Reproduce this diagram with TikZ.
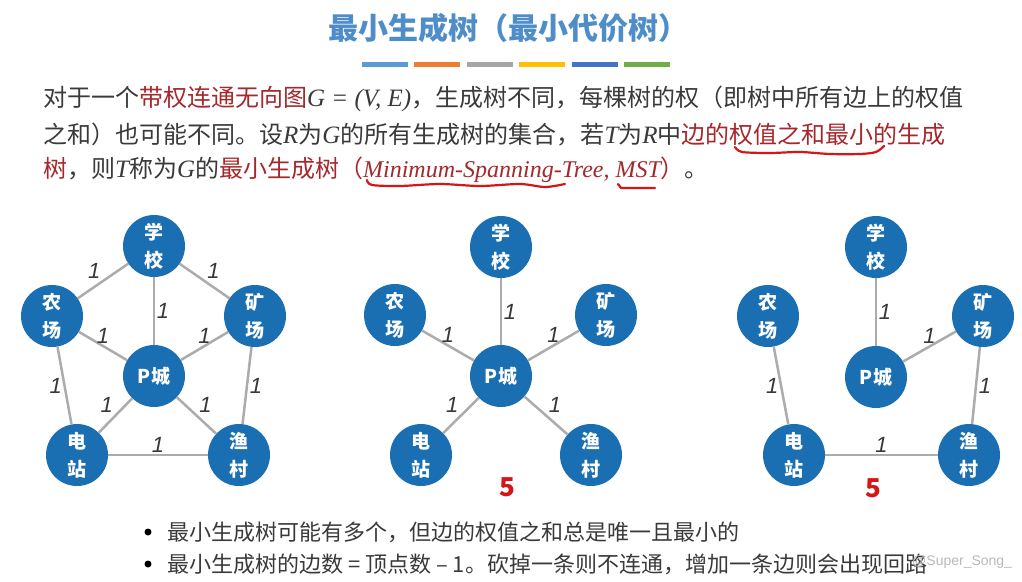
\documentclass[tikz,border=0pt]{standalone}
\usepackage{fontspec}
\setmainfont{Noto Sans CJK SC}
\newfontfamily\timesfont{Liberation Serif}
\newfontfamily\arialfont{Liberation Sans}

\definecolor{titleblue}{RGB}{79,141,201}
\definecolor{nodeblue}{RGB}{26,110,178}
\definecolor{roadgray}{RGB}{172,172,172}
\definecolor{wtgray}{RGB}{56,56,56}
\definecolor{bodygray}{RGB}{58,58,58}
\definecolor{mstred}{RGB}{165,40,45}
\definecolor{inkred}{RGB}{212,22,22}
\definecolor{barA}{RGB}{91,155,213}
\definecolor{barB}{RGB}{237,125,49}
\definecolor{barC}{RGB}{165,165,165}
\definecolor{barD}{RGB}{255,192,0}
\definecolor{barE}{RGB}{68,114,196}
\definecolor{barF}{RGB}{112,173,71}

\newcommand{\hl}[1]{\textcolor{mstred}{#1}}
\newcommand{\tm}[1]{{\timesfont\itshape\fontsize{25}{30}\selectfont #1}}

\tikzset{
  town/.style={circle, fill=nodeblue, minimum size=62pt, inner sep=0pt, text=white,
    align=center, font=\bfseries\fontsize{19}{28}\selectfont},
  road/.style={draw=roadgray, line width=2.5pt},
  wt/.style={font=\arialfont\itshape\fontsize{22}{22}\selectfont, text=wtgray, inner sep=1.5pt},
  textline/.style={anchor=west, inner sep=0pt, text=bodygray, font=\fontsize{24}{30}\selectfont},
  tipline/.style={anchor=west, inner sep=0pt, text=bodygray, font=\fontsize{22}{28}\selectfont},
  ink/.style={draw=inkred, line width=2.2pt, line cap=round, line join=round},
  fivemark/.style={text=inkred, font=\bfseries\fontsize{26}{26}\selectfont, inner sep=0pt},
}

\begin{document}
\begin{tikzpicture}[x=1pt,y=-1pt]
  \useasboundingbox (0,0) rectangle (1022,581);
  \fill[white] (0,0) rectangle (1022,581);

  % title and colour bars
  \node[text=titleblue, font=\bfseries\fontsize{30}{36}\selectfont] (title) at (508,28) {最小生成树（最小代价树）};
  \foreach \c [count=\i from 0] in {barA,barB,barC,barD,barE,barF}
    \fill[\c] (362+52.4*\i,62) rectangle ++(46,5);

  % definition
  \node[textline] (line1) at (43,99) {对于一个\hl{带权连通无向图}\tm{G = (V, E)}，生成树不同，每棵树的权（即树中所有边上的权值};
  \node[textline] (line2) at (43,135) {之和）也可能不同。设\tm{R}为\tm{G}的所有生成树的集合，若\tm{T}为\tm{R}中\hl{边的权值之和最小的生成}};
  \node[textline] (line3) at (43,170) {\hl{树}，则\tm{T}称为\tm{G}的\hl{最小生成树（{\timesfont\itshape\fontsize{24}{30}\selectfont Minimum-Spanning-Tree, MST}）}。};

  % hand-drawn marks
  \draw[ink] plot[smooth] coordinates {(735,147) (742,152) (770,153) (800,152) (830,154) (860,154) (876,152) (884,146)};
  \draw[ink] plot[smooth] coordinates {(367,180) (372,185) (400,186) (440,184) (480,186) (520,184) (545,187) (565,184)};
  \draw[ink] (618,184) -- (621,188) -- (655,188);

  % graph 1: the full graph
  \node[town] (schoolA) at (154,246) {学\\校};
  \node[town] (farmA) at (52,316) {农\\场};
  \node[town] (mineA) at (255,316) {矿\\场};
  \node[town] (cityA) at (154,376) {P城};
  \node[town] (powerA) at (77,455) {电\\站};
  \node[town] (fishA) at (239,455) {渔\\村};
  \draw[road] (schoolA) -- node[wt, above left] {1} (farmA);
  \draw[road] (schoolA) -- node[wt, above right] {1} (mineA);
  \draw[road] (schoolA) -- node[wt, right] {1} (cityA);
  \draw[road] (farmA) -- node[wt, above] {1} (cityA);
  \draw[road] (mineA) -- node[wt, above] {1} (cityA);
  \draw[road] (farmA) -- node[wt, left] {1} (powerA);
  \draw[road] (mineA) -- node[wt, right] {1} (fishA);
  \draw[road] (cityA) -- node[wt, above left] {1} (powerA);
  \draw[road] (cityA) -- node[wt, above right] {1} (fishA);
  \draw[road] (powerA) -- node[wt, above] {1} (fishA);

  % graph 2: star tree
  \node[town] (schoolB) at (501,247) {学\\校};
  \node[town] (farmB) at (395,315) {农\\场};
  \node[town] (mineB) at (606,315) {矿\\场};
  \node[town] (cityB) at (501,376) {P城};
  \node[town] (powerB) at (421,455) {电\\站};
  \node[town] (fishB) at (591,455) {渔\\村};
  \draw[road] (cityB) -- node[wt, right] {1} (schoolB);
  \draw[road] (cityB) -- node[wt, above] {1} (farmB);
  \draw[road] (cityB) -- node[wt, above] {1} (mineB);
  \draw[road] (cityB) -- node[wt, above left] {1} (powerB);
  \draw[road] (cityB) -- node[wt, above right] {1} (fishB);
  \node[fivemark] (fiveB) at (507,487) {5};

  % graph 3: path tree
  \node[town] (schoolC) at (876,247) {学\\校};
  \node[town] (farmC) at (768,316) {农\\场};
  \node[town] (mineC) at (983,316) {矿\\场};
  \node[town] (cityC) at (876,377) {P城};
  \node[town] (powerC) at (794,455) {电\\站};
  \node[town] (fishC) at (969,455) {渔\\村};
  \draw[road] (cityC) -- node[wt, right] {1} (schoolC);
  \draw[road] (cityC) -- node[wt, above] {1} (mineC);
  \draw[road] (farmC) -- node[wt, left] {1} (powerC);
  \draw[road] (mineC) -- node[wt, right] {1} (fishC);
  \draw[road] (powerC) -- node[wt, above] {1} (fishC);
  \node[fivemark] (fiveC) at (873,488) {5};

  % remarks
  \fill[black] (148,532) circle (3.5);
  \fill[black] (148,564) circle (3.5);
  \node[tipline] (tip1) at (167,532) {最小生成树可能有多个，但边的权值之和总是唯一且最小的};
  \node[tipline] (tip2) at (167,564) {最小生成树的边数\ =\ 顶点数\ –\ 1。砍掉一条则不连通，增加一条边则会出现回路};
  \node[anchor=west, inner sep=0pt, text=gray!55, font=\arialfont\fontsize{14}{18}\selectfont] (mark) at (912,562) {@Super\_Song\_};
\end{tikzpicture}
\end{document}
